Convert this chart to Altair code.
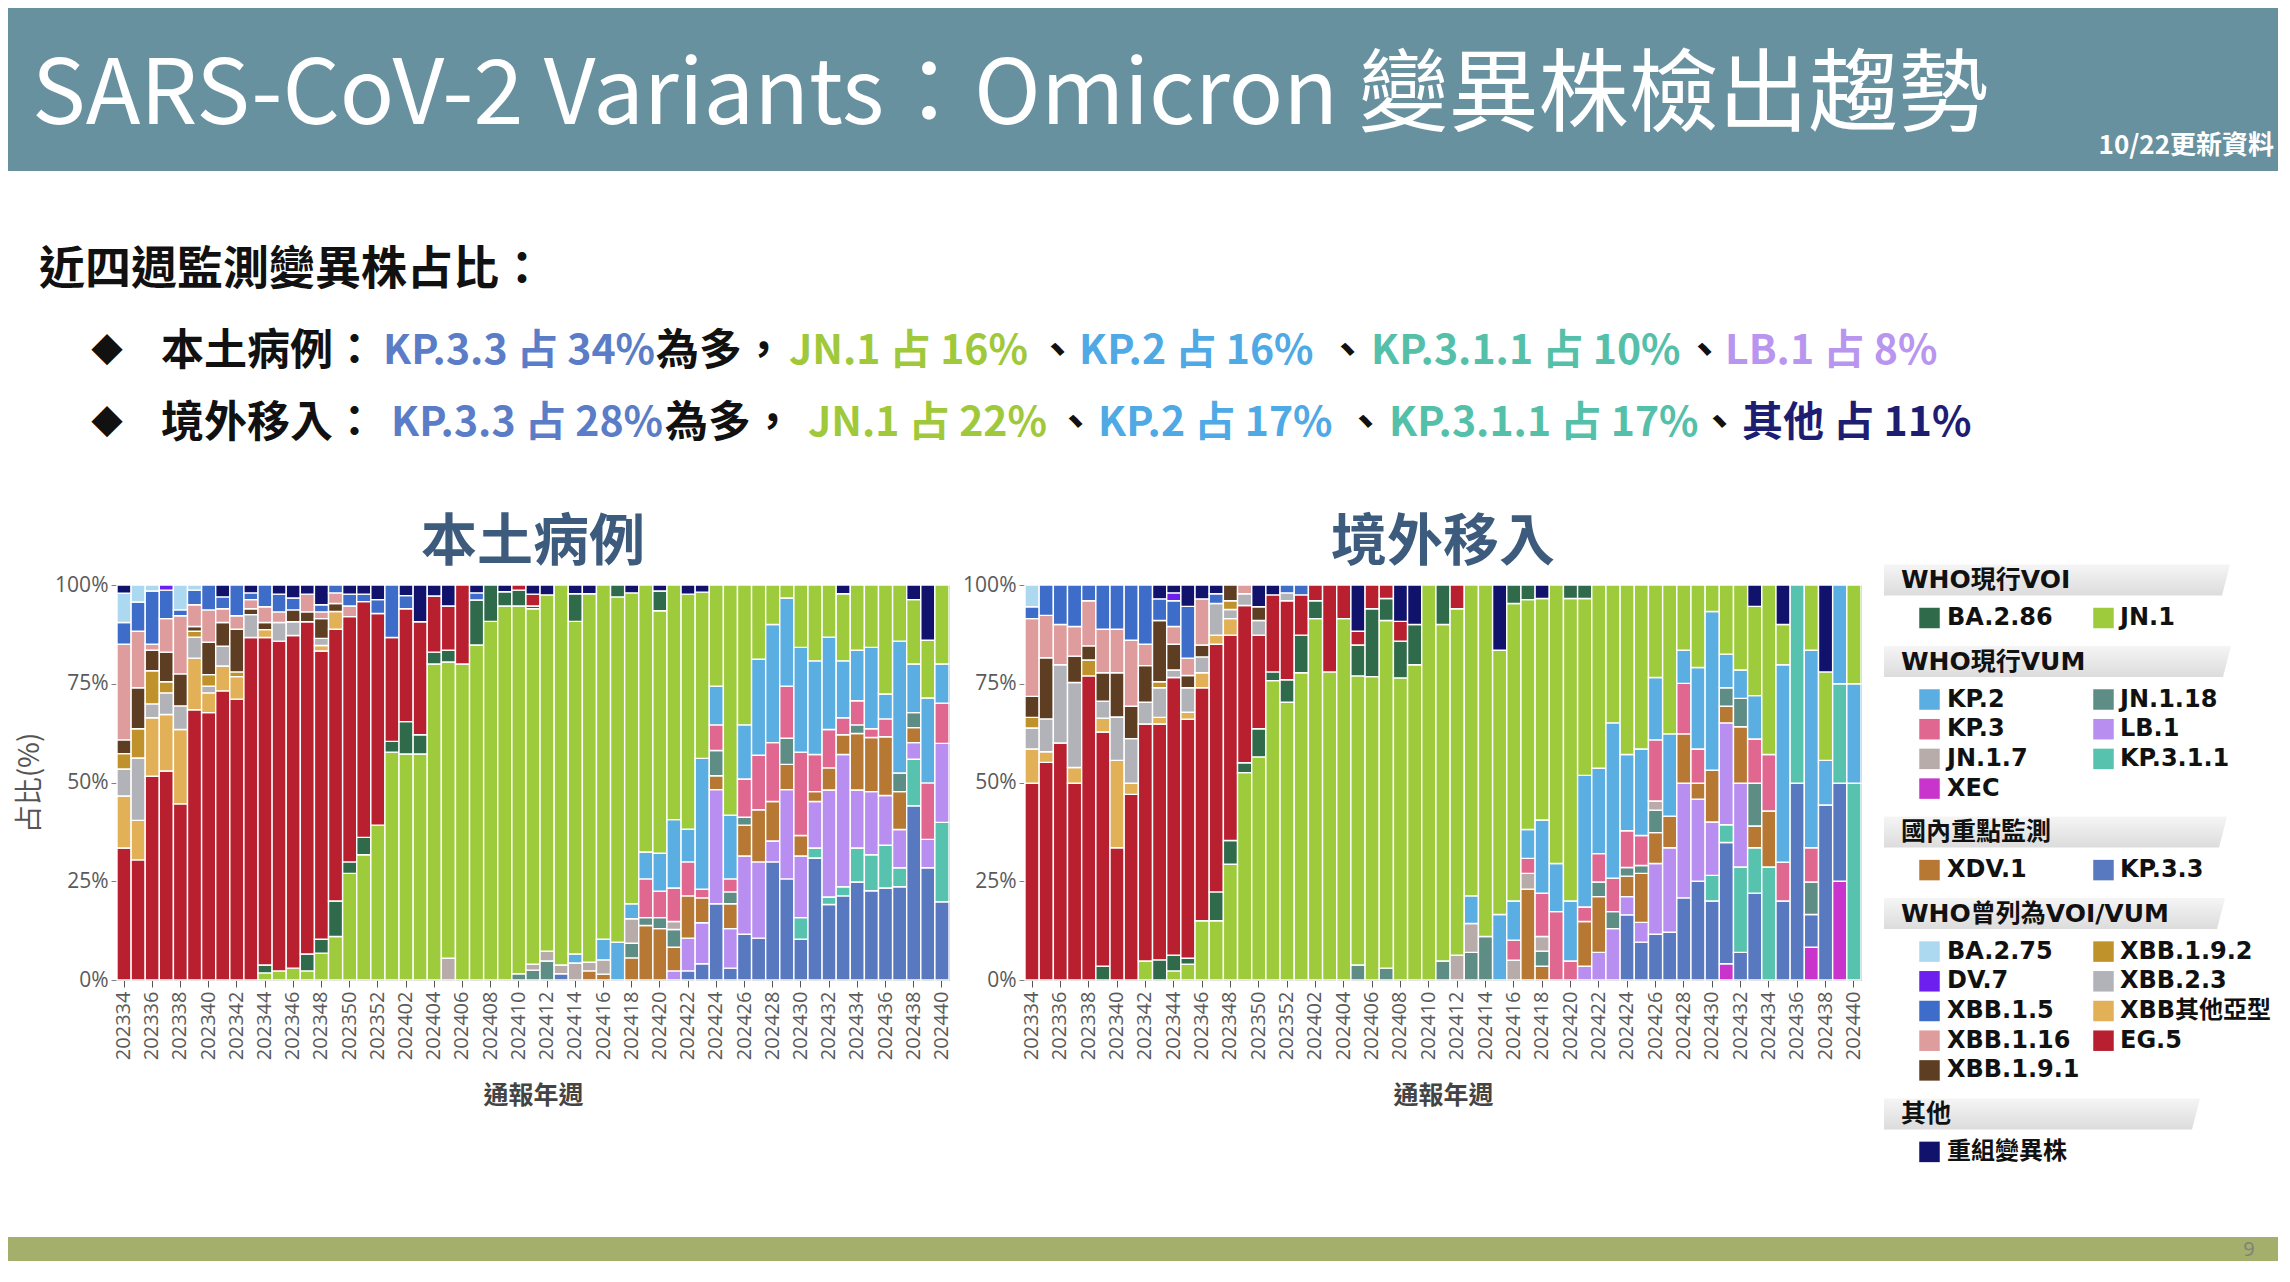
import altair as alt
import pandas as pd

# ---------------- categories ----------------
WEEKS = [f"2023{w:02d}" for w in range(34, 53)] + [f"2024{w:02d}" for w in range(1, 41)]
TICK_WEEKS = WEEKS[::2]

# stacking order: first = bottom of the bar
VARIANTS = ["XEC", "KP.3.3", "KP.3.1.1", "LB.1", "XDV.1", "JN.1.18", "JN.1.7", "KP.3", "KP.2",
            "JN.1", "BA.2.86", "EG.5", "XBB其他亞型", "XBB.2.3", "XBB.1.9.2", "XBB.1.9.1",
            "XBB.1.16", "XBB.1.5", "DV.7", "BA.2.75", "重組變異株"]
COLORS = ["#c934cc", "#5878c0", "#57c2ae", "#b88ef0", "#b67832", "#5e8d85", "#b8acab", "#e0678f",
          "#5aaee2", "#9dcb3b", "#2f6a4b", "#b8202f", "#e2b056", "#b1b3b8", "#bf922b", "#5e3e22",
          "#de9c9c", "#3d6cc9", "#6d1ff0", "#acd8f0", "#10126c"]

# ---------------- weekly shares (%), 本土病例 ----------------
LOCAL_SHARES = [
    {"EG.5": 33.4, "XBB其他亞型": 13.2, "XBB.2.3": 6.8, "XBB.1.9.2": 3.9, "XBB.1.9.1": 3.5, "XBB.1.16": 24.2, "XBB.1.5": 5.5, "BA.2.75": 7.4, "重組變異株": 2.1},
    {"EG.5": 30.4, "XBB其他亞型": 10, "XBB.2.3": 15.8, "XBB.1.9.2": 7.4, "XBB.1.9.1": 10.4, "XBB.1.16": 14.3, "XBB.1.5": 7.4, "BA.2.75": 4.3},
    {"EG.5": 51.6, "XBB其他亞型": 14.8, "XBB.2.3": 3.5, "XBB.1.9.2": 8.4, "XBB.1.9.1": 5.2, "XBB.1.16": 1.5, "XBB.1.5": 13.5, "BA.2.75": 1.5},
    {"EG.5": 52.9, "XBB其他亞型": 14.3, "XBB.2.3": 5.5, "XBB.1.9.2": 2.8, "XBB.1.9.1": 7.5, "XBB.1.16": 8.5, "XBB.1.5": 7.2, "DV.7": 1.3},
    {"EG.5": 44.6, "XBB其他亞型": 18.8, "XBB.2.3": 6, "XBB.1.9.1": 8.1, "XBB.1.16": 14.7, "XBB.1.5": 1.5, "BA.2.75": 6.3},
    {"EG.5": 68.4, "XBB其他亞型": 13.1, "XBB.2.3": 5.3, "XBB.1.9.2": 1.5, "XBB.1.9.1": 1.2, "XBB.1.16": 5.5, "XBB.1.5": 3.7, "BA.2.75": 1.3},
    {"EG.5": 67.7, "XBB其他亞型": 5, "XBB.2.3": 1.7, "XBB.1.9.2": 2.9, "XBB.1.9.1": 8.2, "XBB.1.16": 8.2, "XBB.1.5": 6.3},
    {"EG.5": 73.2, "XBB其他亞型": 6.3, "XBB.2.3": 5, "XBB.1.9.1": 6, "XBB.1.16": 3.5, "XBB.1.5": 3, "重組變異株": 3},
    {"EG.5": 71.1, "XBB其他亞型": 5.7, "XBB.1.9.2": 1.2, "XBB.1.9.1": 10.8, "XBB.1.16": 3.4, "XBB.1.5": 7.8},
    {"EG.5": 86.7, "XBB.2.3": 5.8, "XBB.1.9.1": 1.5, "XBB.1.16": 2.3, "XBB.1.5": 1.7, "重組變異株": 2},
    {"JN.1": 1.8, "BA.2.86": 2, "EG.5": 82.9, "XBB其他亞型": 2, "XBB.1.9.1": 1.8, "XBB.1.16": 4, "XBB.1.5": 5.5},
    {"JN.1": 2.3, "EG.5": 83.5, "XBB.2.3": 4.7, "XBB.1.16": 2.7, "XBB.1.5": 4.5, "重組變異株": 2.3},
    {"JN.1": 3, "EG.5": 84.2, "XBB.2.3": 3.5, "XBB.1.9.1": 3, "XBB.1.5": 3, "重組變異株": 3.3},
    {"JN.1": 2.3, "BA.2.86": 4.3, "EG.5": 84.1, "XBB.1.9.1": 2.5, "XBB.1.16": 4.5, "重組變異株": 2.3},
    {"JN.1": 6.8, "BA.2.86": 3.5, "EG.5": 73, "XBB其他亞型": 1.4, "XBB.2.3": 1.8, "XBB.1.9.1": 5, "XBB.1.16": 1.7, "XBB.1.5": 1.8, "重組變異株": 5},
    {"JN.1": 11, "BA.2.86": 9, "EG.5": 68.8, "XBB其他亞型": 4.5, "XBB.1.9.1": 2, "XBB.1.16": 2.7, "XBB.1.5": 2},
    {"JN.1": 27, "BA.2.86": 2.9, "EG.5": 62.1, "XBB.1.16": 2.7, "XBB.1.5": 3, "重組變異株": 2.3},
    {"JN.1": 31.7, "BA.2.86": 4.4, "EG.5": 59.7, "XBB.1.5": 1.9, "重組變異株": 2.3},
    {"JN.1": 39.2, "EG.5": 53.6, "XBB.1.5": 3.5, "重組變異株": 3.7},
    {"JN.1": 57.7, "BA.2.86": 2.7, "EG.5": 26.3, "XBB.1.5": 13.3},
    {"JN.1": 57.2, "BA.2.86": 8.2, "EG.5": 28.6, "XBB.1.5": 3.3, "重組變異株": 2.7},
    {"JN.1": 57.2, "BA.2.86": 4.9, "EG.5": 28.6, "重組變異株": 9.3},
    {"JN.1": 80, "BA.2.86": 3, "EG.5": 14.2, "重組變異株": 2.8},
    {"JN.1.7": 5.5, "JN.1": 75, "BA.2.86": 3, "EG.5": 11.2, "重組變異株": 5.3},
    {"JN.1": 80, "EG.5": 20},
    {"JN.1": 84.8, "BA.2.86": 11.4, "XBB.1.5": 1.8, "重組變異株": 2},
    {"JN.1": 90.8, "BA.2.86": 9.2},
    {"JN.1": 94.7, "BA.2.86": 3.6, "重組變異株": 1.7},
    {"JN.1.18": 1.6, "JN.1": 93.1, "BA.2.86": 4, "EG.5": 1.3},
    {"JN.1.18": 2.5, "JN.1.7": 1.5, "JN.1": 90, "BA.2.86": 0.7, "EG.5": 3, "重組變異株": 2.3},
    {"JN.1.18": 4.8, "JN.1.7": 2.5, "JN.1": 90.2, "重組變異株": 2.5},
    {"KP.3.3": 1.6, "JN.1.7": 2.2, "JN.1": 96.2},
    {"JN.1.7": 4.3, "KP.2": 2.3, "JN.1": 84.2, "BA.2.86": 7, "重組變異株": 2.2},
    {"XDV.1": 2.3, "JN.1.7": 2.2, "JN.1": 93.3, "重組變異株": 2.2},
    {"XDV.1": 1.5, "JN.1.7": 3.6, "KP.2": 5.2, "JN.1": 89.7},
    {"KP.2": 9.6, "JN.1": 87.4, "BA.2.86": 3},
    {"XDV.1": 5.6, "JN.1.18": 3.7, "JN.1.7": 6.2, "KP.2": 3.8, "JN.1": 78.7, "重組變異株": 2},
    {"XDV.1": 13.8, "JN.1.18": 2, "KP.3": 9.8, "KP.2": 6.8, "JN.1": 67.6},
    {"XDV.1": 13, "JN.1.18": 2.8, "KP.3": 6.7, "KP.2": 9.6, "JN.1": 61.4, "BA.2.86": 5, "重組變異株": 1.5},
    {"LB.1": 2.3, "XDV.1": 6, "JN.1.18": 4.5, "JN.1.7": 2, "KP.3": 8.5, "KP.2": 17.3, "JN.1": 59.4},
    {"KP.3.3": 2.3, "LB.1": 8.3, "XDV.1": 10.7, "KP.3": 8.6, "KP.2": 8.3, "JN.1": 59.5, "重組變異株": 2.3},
    {"KP.3.3": 4.1, "LB.1": 10.4, "XDV.1": 6.3, "KP.3": 2.2, "KP.2": 33.1, "JN.1": 42.1, "重組變異株": 1.8},
    {"KP.3.3": 19.3, "LB.1": 28.9, "XDV.1": 3.5, "JN.1.18": 6.4, "KP.3": 6.5, "KP.2": 9.8, "JN.1": 25.6},
    {"KP.3.3": 3, "LB.1": 10, "XDV.1": 6.3, "JN.1.18": 3, "KP.3": 3.3, "KP.2": 16.1, "JN.1": 58.3},
    {"KP.3.3": 11.6, "LB.1": 19.8, "XDV.1": 7.8, "JN.1.18": 2, "KP.3": 9.7, "KP.2": 13.7, "JN.1": 35.4},
    {"KP.3.3": 10.6, "LB.1": 19.3, "XDV.1": 13.2, "KP.3": 13.8, "KP.2": 24.3, "JN.1": 18.8},
    {"KP.3.3": 29.9, "LB.1": 5.3, "XDV.1": 10, "KP.3": 14.9, "KP.2": 29.9, "JN.1": 10},
    {"KP.3.3": 25.6, "LB.1": 22.6, "XDV.1": 6.4, "JN.1.18": 6.6, "KP.3": 13.2, "KP.2": 22.3, "JN.1": 3.3},
    {"KP.3.3": 10.3, "KP.3.1.1": 5.5, "LB.1": 15.6, "XDV.1": 5.2, "KP.3": 21.1, "KP.2": 26.5, "JN.1": 15.8},
    {"KP.3.3": 30.9, "KP.3.1.1": 2.5, "LB.1": 11.8, "XDV.1": 2.5, "KP.3": 9.4, "KP.2": 23.7, "JN.1": 19.2},
    {"KP.3.3": 19.1, "KP.3.1.1": 1.9, "LB.1": 27.1, "XDV.1": 5.6, "KP.3": 9.7, "KP.2": 23.4, "JN.1": 13.2},
    {"KP.3.3": 21.3, "KP.3.1.1": 2.3, "LB.1": 33.5, "XDV.1": 5, "KP.3": 4.3, "KP.2": 14.4, "JN.1": 17, "重組變異株": 2.2},
    {"KP.3.3": 24.8, "KP.3.1.1": 8.6, "LB.1": 14.7, "XDV.1": 14.3, "JN.1.18": 2.2, "KP.3": 6.1, "KP.2": 12.8, "JN.1": 16.5},
    {"KP.3.3": 22.6, "KP.3.1.1": 9.1, "LB.1": 16, "XDV.1": 13.7, "KP.3": 2.2, "KP.2": 20.6, "JN.1": 15.8},
    {"KP.3.3": 23.3, "KP.3.1.1": 10.8, "LB.1": 12.6, "XDV.1": 14.9, "KP.3": 4.5, "KP.2": 6.3, "JN.1": 27.6},
    {"KP.3.3": 23.6, "KP.3.1.1": 4.8, "LB.1": 9.7, "XDV.1": 9.6, "JN.1.18": 4.7, "KP.2": 33.4, "JN.1": 14.2},
    {"KP.3.3": 44.1, "KP.3.1.1": 11.8, "LB.1": 4.2, "XDV.1": 3.8, "JN.1.18": 3.8, "KP.2": 12.3, "JN.1": 16.3, "重組變異株": 3.7},
    {"KP.3.3": 28.4, "LB.1": 7.2, "KP.3": 14.3, "KP.2": 21.5, "JN.1": 14.6, "重組變異株": 14},
    {"KP.3.3": 19.8, "KP.3.1.1": 20.1, "LB.1": 20, "KP.3": 10.2, "KP.2": 9.9, "JN.1": 20},
]

# ---------------- weekly shares (%), 境外移入 ----------------
IMPORTED_SHARES = [
    {"EG.5": 49.8, "XBB其他亞型": 8.7, "XBB.2.3": 5.3, "XBB.1.9.2": 2.7, "XBB.1.9.1": 5.3, "XBB.1.16": 19.7, "XBB.1.5": 3, "BA.2.75": 5.5},
    {"EG.5": 55.1, "XBB其他亞型": 2.7, "XBB.2.3": 8.3, "XBB.1.9.1": 15.5, "XBB.1.16": 10.7, "XBB.1.5": 7.7},
    {"EG.5": 60, "XBB.2.3": 19.8, "XBB.1.16": 10.2, "XBB.1.5": 10},
    {"EG.5": 49.8, "XBB其他亞型": 4, "XBB.2.3": 21.5, "XBB.1.9.1": 6.7, "XBB.1.16": 7.5, "XBB.1.5": 10.5},
    {"EG.5": 77, "XBB.1.9.2": 4, "XBB.1.9.1": 3.6, "XBB.1.16": 11.4, "XBB.1.5": 4},
    {"BA.2.86": 3.5, "EG.5": 59.3, "XBB其他亞型": 3.5, "XBB.2.3": 4.3, "XBB.1.9.1": 7.2, "XBB.1.16": 11, "XBB.1.5": 11.2},
    {"EG.5": 33.5, "XBB其他亞型": 22.1, "XBB.2.3": 11, "XBB.1.9.1": 11.2, "XBB.1.16": 11, "XBB.1.5": 11.2},
    {"EG.5": 47, "XBB其他亞型": 2.8, "XBB.2.3": 11.3, "XBB.1.9.1": 8.2, "XBB.1.16": 16.7, "XBB.1.5": 14},
    {"JN.1": 4.8, "EG.5": 60, "XBB.2.3": 5.5, "XBB.1.9.1": 9.3, "XBB.1.16": 5.4, "XBB.1.5": 15},
    {"BA.2.86": 5.1, "EG.5": 59.7, "XBB其他亞型": 1.7, "XBB.2.3": 7.5, "XBB.1.9.2": 1.5, "XBB.1.9.1": 15.5, "XBB.1.5": 5.5, "重組變異株": 3.5},
    {"JN.1": 2.3, "BA.2.86": 4, "EG.5": 70.3, "XBB.2.3": 1.9, "XBB.1.9.1": 6.5, "XBB.1.16": 4.5, "XBB.1.5": 6.5, "DV.7": 2, "重組變異株": 2},
    {"JN.1": 4, "BA.2.86": 1.5, "EG.5": 60.5, "XBB其他亞型": 1.8, "XBB.2.3": 6.2, "XBB.1.9.1": 3.1, "XBB.1.16": 4.4, "XBB.1.5": 13.1, "重組變異株": 5.4},
    {"JN.1": 15, "EG.5": 59, "XBB其他亞型": 3.8, "XBB.2.3": 4, "XBB.1.9.1": 3, "XBB.1.16": 11.7, "重組變異株": 3.5},
    {"JN.1": 15, "BA.2.86": 7.3, "EG.5": 62.7, "XBB其他亞型": 2.3, "XBB.2.3": 8, "XBB.1.5": 2.5, "重組變異株": 2.2},
    {"JN.1": 29.3, "BA.2.86": 6, "EG.5": 52, "XBB其他亞型": 4.2, "XBB.2.3": 2.3, "XBB.1.9.2": 2.2, "XBB.1.9.1": 4},
    {"JN.1": 52.5, "BA.2.86": 2.5, "EG.5": 39.8, "XBB.2.3": 3, "XBB.1.16": 2.2},
    {"JN.1": 56.5, "BA.2.86": 7.1, "EG.5": 23.7, "XBB.2.3": 3.7, "XBB.1.9.1": 3.5, "重組變異株": 5.5},
    {"JN.1": 75.8, "BA.2.86": 2.2, "EG.5": 19.5, "重組變異株": 2.5},
    {"JN.1": 70.3, "BA.2.86": 5.7, "EG.5": 20, "XBB.2.3": 2, "XBB.1.5": 2},
    {"JN.1": 77.8, "BA.2.86": 9.5, "EG.5": 10.2, "XBB.1.5": 2.5},
    {"JN.1": 91.5, "BA.2.86": 4.5, "EG.5": 4},
    {"JN.1": 78, "EG.5": 22},
    {"JN.1": 91.5, "EG.5": 8.5},
    {"JN.1.18": 3.8, "JN.1": 73.2, "BA.2.86": 7.8, "EG.5": 3.5, "重組變異株": 11.7},
    {"JN.1": 76.8, "BA.2.86": 17.2, "EG.5": 6},
    {"JN.1.18": 3, "JN.1": 88, "BA.2.86": 5.6, "EG.5": 3.4},
    {"JN.1": 76.5, "BA.2.86": 9.3, "EG.5": 5, "重組變異株": 9.2},
    {"JN.1": 79.8, "BA.2.86": 10.2, "重組變異株": 10},
    {"JN.1": 100},
    {"JN.1.18": 4.8, "JN.1": 85.2, "BA.2.86": 10},
    {"JN.1.7": 6.3, "JN.1": 87.7, "EG.5": 6},
    {"JN.1.18": 7, "JN.1.7": 7.3, "KP.2": 7, "JN.1": 78.7},
    {"JN.1.18": 11, "JN.1": 89},
    {"KP.2": 16.6, "JN.1": 66.9, "重組變異株": 16.5},
    {"JN.1.7": 5, "KP.3": 5.1, "KP.2": 9.9, "JN.1": 75.3, "BA.2.86": 4.7},
    {"XDV.1": 23, "JN.1.7": 4, "KP.3": 3.8, "KP.2": 7.3, "JN.1": 58.2, "BA.2.86": 3.7},
    {"XDV.1": 3.5, "JN.1.18": 3.8, "JN.1.7": 3.7, "KP.3": 11, "KP.2": 18.5, "JN.1": 56.1, "重組變異株": 3.4},
    {"KP.3": 17.3, "KP.2": 12.2, "JN.1": 70.5},
    {"KP.3": 4.8, "KP.2": 15.2, "JN.1": 76.6, "BA.2.86": 3.4},
    {"LB.1": 3.5, "XDV.1": 11.3, "KP.3": 3.7, "KP.2": 33.3, "JN.1": 44.8, "BA.2.86": 3.4},
    {"LB.1": 7, "XDV.1": 14.1, "JN.1.18": 3.7, "KP.3": 7.2, "KP.2": 21.6, "JN.1": 46.4},
    {"LB.1": 13, "JN.1.18": 4.3, "KP.3": 8.5, "KP.2": 39.3, "JN.1": 34.9},
    {"KP.3.3": 16.5, "LB.1": 4.6, "XDV.1": 5.2, "JN.1.18": 2.2, "KP.3": 9.3, "KP.2": 19.3, "JN.1": 42.9},
    {"KP.3.3": 9.6, "LB.1": 5, "XDV.1": 12.4, "JN.1.18": 2, "KP.3": 7.6, "KP.2": 21.9, "JN.1": 41.5},
    {"KP.3.3": 11.6, "LB.1": 17.9, "XDV.1": 7.8, "JN.1.18": 5.7, "JN.1.7": 2.3, "KP.3": 15.5, "KP.2": 15.8, "JN.1": 23.4},
    {"KP.3.3": 12.1, "LB.1": 21.4, "XDV.1": 8, "KP.2": 20.8, "JN.1": 37.7},
    {"KP.3.3": 20.8, "LB.1": 29, "XDV.1": 12.5, "KP.3": 12.8, "KP.2": 8.4, "JN.1": 16.5},
    {"KP.3.3": 25, "LB.1": 20.8, "XDV.1": 4, "KP.3": 8.7, "KP.2": 20.6, "JN.1": 20.9},
    {"KP.3.3": 20, "KP.3.1.1": 6.5, "LB.1": 13.5, "XDV.1": 13.1, "KP.2": 40.2, "JN.1": 6.7},
    {"XEC": 4.1, "KP.3.3": 30.7, "KP.3.1.1": 4.5, "LB.1": 25.8, "XDV.1": 4.2, "JN.1.18": 4.7, "KP.2": 8.5, "JN.1": 17.5},
    {"KP.3.3": 7, "KP.3.1.1": 21.6, "LB.1": 21.2, "XDV.1": 14.3, "JN.1.18": 7.2, "KP.2": 7.2, "JN.1": 21.5},
    {"KP.3.3": 22, "KP.3.1.1": 11.5, "XDV.1": 5.5, "JN.1.18": 10.8, "KP.3": 11.2, "KP.2": 11, "JN.1": 22.6, "重組變異株": 5.4},
    {"KP.3.1.1": 28.6, "XDV.1": 14.2, "KP.3": 14.3, "JN.1": 42.9},
    {"KP.3.3": 20, "KP.3": 9.8, "KP.2": 50, "JN.1": 10.2, "重組變異株": 10},
    {"KP.3.3": 49.8, "KP.3.1.1": 50.2},
    {"XEC": 8.3, "KP.3.3": 8.3, "JN.1.18": 8.2, "KP.3": 8.7, "KP.2": 50, "JN.1": 16.5},
    {"KP.3.3": 44.3, "KP.2": 11.3, "JN.1": 22.4, "重組變異株": 22},
    {"XEC": 25, "KP.3.3": 24.8, "KP.3.1.1": 25.2, "KP.2": 25},
    {"KP.3.1.1": 49.8, "KP.2": 25.2, "JN.1": 25},
]
assert len(LOCAL_SHARES) == len(WEEKS) == len(IMPORTED_SHARES)

# ---------------- texts ----------------
SLIDE_TITLE = "SARS-CoV-2 Variants：Omicron 變異株檢出趨勢"
UPDATE_NOTE = "10/22更新資料"
INTRO = "近四週監測變異株占比："
LINE1_TEXT = ["◆", "本土病例：", "KP.3.3 占 34%", "為多，", "JN.1 占 16%", "、", "KP.2 占 16%", "、",
              "KP.3.1.1 占 10%", "、", "LB.1 占 8%"]
LINE2_TEXT = ["◆", "境外移入：", "KP.3.3 占 28%", "為多，", "JN.1 占 22%", "、", "KP.2 占 17%", "、",
              "KP.3.1.1 占 17%", "、", "其他 占 11%"]
LINE1_COLOR = ["#111111", "#111111", "#5b7cc6", "#111111", "#9fc93a", "#111111", "#4fa9e4", "#111111",
               "#55c0a9", "#111111", "#b896ef"]
LINE2_COLOR = ["#111111", "#111111", "#5b7cc6", "#111111", "#9fc93a", "#111111", "#4fa9e4", "#111111",
               "#55c0a9", "#111111", "#1d1d72"]
CHART_TITLES = ["本土病例", "境外移入"]

LEGEND_GROUPS = [
    ("WHO現行VOI", ["BA.2.86", "JN.1"]),
    ("WHO現行VUM", ["KP.2", "JN.1.18", "KP.3", "LB.1", "JN.1.7", "KP.3.1.1", "XEC"]),
    ("國內重點監測", ["XDV.1", "KP.3.3"]),
    ("WHO曾列為VOI/VUM", ["BA.2.75", "XBB.1.9.2", "DV.7", "XBB.2.3", "XBB.1.5", "XBB其他亞型",
                      "XBB.1.16", "EG.5", "XBB.1.9.1"]),
    ("其他", ["重組變異株"]),
]

# ---------------- layout (pixels) ----------------
CJK = "Noto Sans CJK TC"
LAT = "Open Sans"
LEG_FONT = "'DejaVu Sans', 'Noto Sans CJK TC'"
E = 109                      # room left of the left plot for its y axis
X0 = 8 + E                   # page x of the column origin (left plot edge)
RIGHT = 2270 - E             # usable width right of the origin
BANNER_H = 163
TEXT_H = 343
PLOT_TOP = 586               # page y of plot tops
MID_H = 614
FOOT_H = 62
LEG_LEFT = 1872
LINE1_X = [91, 161, 383, 656, 789, 1036, 1079, 1326, 1371, 1683, 1725]
LINE2_X = [91, 161, 391, 665, 808, 1054, 1098, 1344, 1389, 1698, 1742]
HEADER_W = [346, 347, 343, 341, 316]


def long_table(shares):
    rows = []
    for wk, d in zip(WEEKS, shares):
        for name, val in d.items():
            rows.append({"week": wk, "variant": name, "share": val, "ord": VARIANTS.index(name)})
    return pd.DataFrame(rows)


def stacked(shares, title, width, ytitle):
    ykw = dict(format="%", values=[0, 0.25, 0.5, 0.75, 1], grid=False, labelFont=LAT,
               labelFontSize=21, labelColor="#5a5a5a", tickColor="#808080", tickSize=6,
               labelPadding=3, domainColor="#8c8c8c")
    if ytitle:
        yaxis = alt.Axis(title=ytitle, titleFont=CJK, titleFontSize=28, titleColor="#555555",
                         titleFontWeight="normal", titlePadding=10, **ykw)
    else:
        yaxis = alt.Axis(title=None, **ykw)
    return alt.Chart(long_table(shares)).mark_bar(stroke="white", strokeWidth=1.4).encode(
        x=alt.X("week:N", scale=alt.Scale(domain=WEEKS, paddingInner=0, paddingOuter=0),
                axis=alt.Axis(values=TICK_WEEKS, labelAngle=-90, labelFont=LAT, labelFontSize=20,
                              labelColor="#5a5a5a", tickColor="#555555", tickSize=7, labelPadding=4,
                              domainColor="#8c8c8c", title="通報年週", titleFont=CJK,
                              titleFontSize=25, titleFontWeight="bold", titleColor="#444444",
                              titlePadding=24)),
        y=alt.Y("share:Q", stack="normalize", axis=yaxis),
        color=alt.Color("variant:N", scale=alt.Scale(domain=VARIANTS, range=COLORS), legend=None),
        order=alt.Order("ord:Q", sort="ascending"),
    ).properties(
        width=width, height=395,
        title=alt.TitleParams(text=title, font=CJK, fontSize=56, fontWeight="bold",
                              color="#3d5b7c", anchor="middle", offset=2),
        view=alt.ViewBackground(stroke="#8c8c8c", strokeWidth=1),
    )


one = pd.DataFrame({"k": [0]})

# ---- banner ----
banner = alt.layer(
    alt.Chart(one).mark_rect(color="#6891a0").encode(
        x=alt.value(-E), x2=alt.value(RIGHT), y=alt.value(0), y2=alt.value(BANNER_H)),
    alt.Chart(one).mark_text(text=SLIDE_TITLE, font=CJK, fontSize=90, color="white",
                             align="left", baseline="middle").encode(
        x=alt.value(32 - X0), y=alt.value(89)),
    alt.Chart(one).mark_text(text=UPDATE_NOTE, font=CJK, fontSize=26, fontWeight="bold",
                             color="white", align="right", baseline="middle").encode(
        x=alt.value(RIGHT - 4), y=alt.value(138)),
).properties(width=RIGHT, height=BANNER_H)

# ---- text block ----
seg_rows = [{"text": INTRO, "color": "#111111", "x": 39 - X0, "y": 270 - 171, "size": 46}]
for texts, cols, xs, ypage in [(LINE1_TEXT, LINE1_COLOR, LINE1_X, 352), (LINE2_TEXT, LINE2_COLOR, LINE2_X, 424)]:
    for t, c, xp in zip(texts, cols, xs):
        if t == "◆":
            fs = 32
        elif c == "#111111":
            fs = 43
        else:
            fs = 41
        seg_rows.append({"text": t, "color": c, "x": xp - X0, "y": ypage - 171, "size": fs})
text_block = alt.Chart(pd.DataFrame(seg_rows)).mark_text(
    align="left", baseline="middle", font=CJK, fontWeight="bold").encode(
    x=alt.X("x:Q", scale=None, axis=None),
    y=alt.Y("y:Q", scale=None, axis=None),
    text="text:N",
    color=alt.Color("color:N", scale=None),
    size=alt.Size("size:Q", scale=None),
).properties(width=RIGHT, height=TEXT_H)

# ---- legend panel ----
cmap = dict(zip(VARIANTS, COLORS))
head_rows, item_rows = [], []
ycur = 581
for gi, (head, items) in enumerate(LEGEND_GROUPS):
    if gi > 0:
        ycur += 43.5
    w = HEADER_W[gi]
    a = 15.5 / (w / 2)
    slant = 1 - 2 * 8 / w
    head_rows.append({"label": head, "tx": 1899 - LEG_LEFT, "bx": 1882 + w / 2 - LEG_LEFT,
                      "y": ycur - PLOT_TOP, "sz": w * w,
                      "path": f"M-1,{-a:.4f}L1,{-a:.4f}L{slant:.4f},{a:.4f}L-1,{a:.4f}Z"})
    ycur += 38
    for k in range(0, len(items), 2):
        if k > 0:
            ycur += 29.7
        for col, name in enumerate(items[k:k + 2]):
            item_rows.append({"label": name, "color": cmap[name],
                              "sx": (1927.5 if col == 0 else 2101.5) - LEG_LEFT,
                              "tx": (1945 if col == 0 else 2118) - LEG_LEFT,
                              "y": ycur - PLOT_TOP})
hdf = pd.DataFrame(head_rows)
idf = pd.DataFrame(item_rows)
grad = alt.LinearGradient(gradient="linear",
                          stops=[alt.GradientStop(color="#f5f5f5", offset=0),
                                 alt.GradientStop(color="#dcdcdc", offset=1)],
                          x1=0, x2=0, y1=0, y2=1)
legend = alt.layer(
    alt.Chart(hdf).mark_point(filled=True, fill=grad, strokeWidth=0, opacity=1).encode(
        x=alt.X("bx:Q", scale=None, axis=None), y=alt.Y("y:Q", scale=None, axis=None),
        shape=alt.Shape("path:N", scale=None), size=alt.Size("sz:Q", scale=None)),
    alt.Chart(hdf).mark_text(align="left", baseline="middle", font=LEG_FONT, fontSize=25,
                             fontWeight="bold", color="#111111").encode(
        x=alt.X("tx:Q", scale=None, axis=None), y=alt.Y("y:Q", scale=None, axis=None), text="label:N"),
    alt.Chart(idf).mark_square(size=420, filled=True, opacity=1).encode(
        x=alt.X("sx:Q", scale=None, axis=None), y=alt.Y("y:Q", scale=None, axis=None),
        color=alt.Color("color:N", scale=None)),
    alt.Chart(idf).mark_text(align="left", baseline="middle", font=LEG_FONT, fontSize=24,
                             fontWeight="bold", color="#111111").encode(
        x=alt.X("tx:Q", scale=None, axis=None), y=alt.Y("y:Q", scale=None, axis=None), text="label:N"),
).properties(width=400, height=MID_H)

left = stacked(LOCAL_SHARES, CHART_TITLES[0], 832, "占比(%)")
right = stacked(IMPORTED_SHARES, CHART_TITLES[1], 836, None)
middle = alt.hconcat(left, right, legend, spacing=10)

# ---- footer ----
footer = alt.layer(
    alt.Chart(one).mark_rect(color="#a3af6a").encode(
        x=alt.value(-E), x2=alt.value(RIGHT), y=alt.value(38), y2=alt.value(FOOT_H)),
    alt.Chart(one).mark_text(text="9", font=LAT, fontSize=20, color="#808080",
                             align="center", baseline="middle").encode(
        x=alt.value(2249 - X0), y=alt.value(51)),
).properties(width=RIGHT, height=FOOT_H)

chart = alt.vconcat(banner, text_block, middle, footer, spacing=0, padding=0).configure(
    font=CJK, background="white").configure_view(strokeWidth=0)

chart.save("out.html", embed_options={"renderer": "svg", "actions": False})
